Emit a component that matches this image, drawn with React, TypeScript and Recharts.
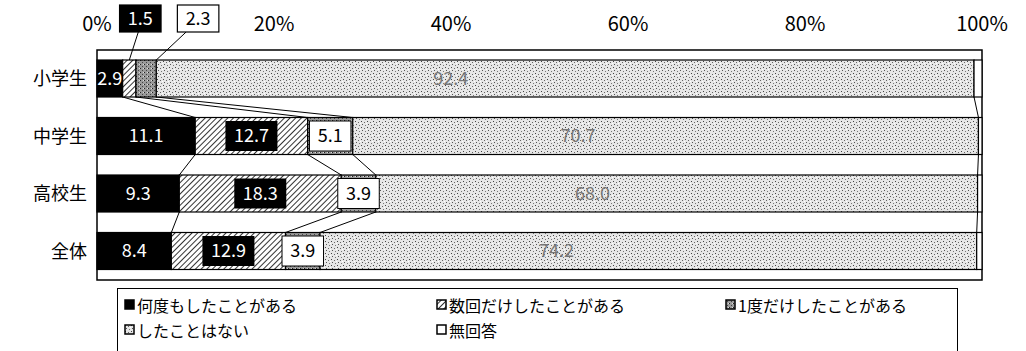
import { BarChart, Bar, XAxis, YAxis, LabelList, ReferenceArea } from 'recharts'

const categories = ['小学生', '中学生', '高校生', '全体']
const seriesNames = ['何度もしたことがある', '数回だけしたことがある', '1度だけしたことがある', 'したことはない', '無回答']
const many = [2.9, 11.1, 9.3, 8.4]
const several = [1.5, 12.7, 18.3, 12.9]
const once = [2.3, 5.1, 3.9, 3.9]
const never = [92.4, 70.7, 68.0, 74.2]
const noAnswer = [0.9, 0.4, 0.5, 0.6]
const xTicks = [0, 20, 40, 60, 80, 100]

const keys = ['many', 'several', 'once', 'never', 'noAnswer']
const seriesValues = [many, several, once, never, noAnswer]
const fills = ['#000', 'url(#hatch)', 'url(#dense)', 'url(#stipple)', '#fff']

const data = categories.map((name, i) => ({
    name,
    many: many[i],
    several: several[i],
    once: once[i],
    never: never[i],
    noAnswer: noAnswer[i],
}))

const font = '"Noto Sans CJK JP", "Noto Sans", sans-serif'

const W = 1026
const H = 351
const margin = { top: 10, right: 44, bottom: 71, left: 0 }
const xAxisH = 40
const bandH = (H - margin.top - margin.bottom - xAxisH) / categories.length

const cum = (row: number, upto: number) => {
    let s = 0
    for (let j = 0; j <= upto; j++) s += seriesValues[j][row]
    return s
}

// segment + series line to the same boundary on the next bar
const makeShape = (k: number) => (props: any) => {
    const { x, y, width, height, payload } = props
    const row = categories.indexOf(payload?.name)
    let line = null
    if (row >= 0 && row < categories.length - 1 && k < keys.length - 1) {
        const v = seriesValues[k][row]
        const ppu = width / v
        const x0 = x - (cum(row, k) - v) * ppu
        line = (
            <line x1={x + width} y1={y + height} x2={x0 + cum(row + 1, k) * ppu} y2={y + bandH}
                stroke="#000" strokeWidth={1} />
        )
    }
    return (
        <g>
            <rect x={x} y={y} width={width} height={height} fill={fills[k]} stroke="#000" strokeWidth={1.2} />
            {line}
        </g>
    )
}

const makeLabel = (k: number) => (props: any) => {
    const { x, y, width, height, index } = props
    const v = seriesValues[k][index]
    if (k === 4) return null
    const txt = v.toFixed(1)
    const cx = x + width / 2
    const cy = y + height / 2
    if (k === 0) {
        return <text x={cx} y={cy} dy={6} textAnchor="middle" fill="#fff" fontSize={18} fontFamily={font}>{txt}</text>
    }
    if (k === 3) {
        return <text x={x + width * 0.36} y={cy} dy={6} textAnchor="middle" fill="#777" fontSize={18} fontFamily={font}>{txt}</text>
    }
    const w = txt.length * 10.5 + 10
    const dark = k === 1
    // 小学生: small segments get callouts above the plot
    if (index === 0) {
        const bx = cx + (k === 1 ? 11 : 52)
        const by = y - 55
        return (
            <g>
                <line x1={bx - (k === 1 ? 2 : 12)} y1={by + 27} x2={k === 1 ? cx : x + width} y2={y} stroke="#000" strokeWidth={1} />
                <rect x={bx - w / 2} y={by} width={w} height={27} fill={dark ? '#000' : '#fff'} stroke="#000" strokeWidth={1.2} />
                <text x={bx} y={by + 13.5} dy={6} textAnchor="middle" fill={dark ? '#fff' : '#000'} fontSize={18} fontFamily={font}>{txt}</text>
            </g>
        )
    }
    return (
        <g>
            <rect x={cx - w / 2} y={cy - 15} width={w} height={30} fill={dark ? '#000' : '#fff'} stroke="#000" strokeWidth={dark ? 0 : 1} />
            <text x={cx} y={cy} dy={6} textAnchor="middle" fill={dark ? '#fff' : '#000'} fontSize={18} fontFamily={font}>{txt}</text>
        </g>
    )
}

function LegendBox() {
    return (
        <div style={{
            position: 'absolute', left: 117, top: 288, width: 841, height: 70, border: '1px solid #000',
            boxSizing: 'border-box', fontFamily: font, fontSize: 16, color: '#000',
            display: 'grid', gridTemplateColumns: '312px 289px 1fr', gridAutoRows: '25px',
            paddingLeft: 6, paddingTop: 3,
        }}>
            {seriesNames.map((n, i) => (
                <div key={n} style={{ display: 'flex', alignItems: 'center', whiteSpace: 'nowrap' }}>
                    <svg width={11} height={11} style={{ marginRight: 2 }}>
                        <rect x={1} y={1} width={9} height={9} fill={fills[i]} stroke="#000" strokeWidth={1.5} />
                    </svg>
                    {n}
                </div>
            ))}
        </div>
    )
}

export default function App() {
    return (
        <div style={{ position: 'absolute', left: 0, top: 0, width: W, height: H, background: '#fff' }}>
            <BarChart width={W} height={H} data={data} layout="vertical" barSize={37} margin={margin}>
                <defs>
                    <pattern id="hatch" width={4} height={4} patternUnits="userSpaceOnUse" patternTransform="rotate(45)">
                        <rect width={4} height={4} fill="#fff" />
                        <line x1={0} y1={0} x2={0} y2={4} stroke="#000" strokeWidth={1.6} />
                    </pattern>
                    <pattern id="dense" width={4} height={4} patternUnits="userSpaceOnUse">
                        <rect width={4} height={4} fill="#9a9a9a" />
                        <rect x={0} y={0} width={1} height={1} fill="#222" />
                        <rect x={2} y={2} width={1} height={1} fill="#444" />
                        <rect x={3} y={0} width={1} height={1} fill="#ddd" />
                    </pattern>
                    <pattern id="stipple" width={6} height={6} patternUnits="userSpaceOnUse">
                        <rect width={6} height={6} fill="#e6e6e6" />
                        <rect x={1} y={1} width={1} height={1} fill="#444" />
                        <rect x={4} y={2} width={1} height={1} fill="#666" />
                        <rect x={2} y={4} width={1} height={1} fill="#555" />
                        <rect x={5} y={5} width={1} height={1} fill="#777" />
                        <rect x={0} y={3} width={1} height={1} fill="#fff" />
                    </pattern>
                </defs>
                <XAxis type="number" orientation="top" domain={[0, 100]} ticks={xTicks} height={xAxisH}
                    tickFormatter={(v) => `${v}%`} tickLine={false} tickSize={0} tickMargin={19}
                    axisLine={false} tick={{ fontSize: 20, fill: '#000', fontFamily: font }} />
                <YAxis type="category" dataKey="name" width={97} tickLine={false} tickSize={0} tickMargin={10}
                    axisLine={false} tick={{ fontSize: 18, fill: '#000', fontFamily: font }} />
                <ReferenceArea x1={0} x2={100} fill="none" stroke="#000" strokeWidth={1.5} ifOverflow="visible" />
                {keys.map((key, k) => (
                    <Bar key={key} dataKey={key} name={seriesNames[k]} stackId="a" fill={fills[k]}
                        shape={makeShape(k)} isAnimationActive={false}>
                        <LabelList dataKey={key} content={makeLabel(k)} />
                    </Bar>
                ))}
            </BarChart>
            <LegendBox />
        </div>
    )
}
